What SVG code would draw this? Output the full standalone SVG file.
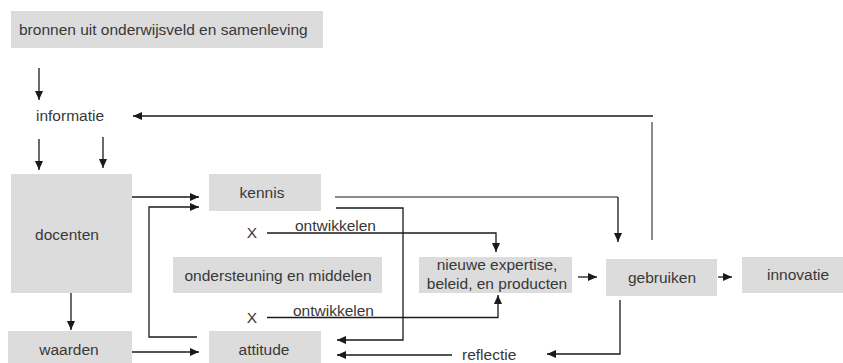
<svg xmlns="http://www.w3.org/2000/svg" width="843" height="363" viewBox="0 0 843 363">
  <style>
    .box { fill: #dcdcdc; }
    .lbl { font-family: "Liberation Sans", Arial, sans-serif; font-size: 15.5px; fill: #383838; }
    .mid { text-anchor: middle; }
    .ln { fill: none; stroke: #1a1a1a; stroke-width: 1.3; }
    .lg { fill: none; stroke: #666; stroke-width: 1.5; }
  </style>
  <defs>
    <marker id="ah" markerUnits="userSpaceOnUse" markerWidth="10" markerHeight="8" refX="9" refY="4" orient="auto">
      <path d="M0,0 L9,4 L0,8 Z" fill="#1a1a1a"/>
    </marker>
  </defs>

  <rect width="843" height="363" fill="#ffffff"/>

  <!-- nodes -->
  <g id="bronnen">
    <rect class="box" x="11" y="11" width="312" height="37"/>
    <text class="lbl" x="19" y="35">bronnen uit onderwijsveld en samenleving</text>
  </g>
  <g id="informatie">
    <text class="lbl" x="36" y="121">informatie</text>
  </g>
  <g id="docenten">
    <rect class="box" x="11" y="174" width="121" height="119"/>
    <text class="lbl mid" x="67" y="240">docenten</text>
  </g>
  <g id="kennis">
    <rect class="box" x="209" y="174" width="112" height="37"/>
    <text class="lbl mid" x="262" y="198">kennis</text>
  </g>
  <g id="x1">
    <text class="lbl mid" x="252" y="238" font-size="16.5">X</text>
    <text class="lbl" x="295" y="231">ontwikkelen</text>
  </g>
  <g id="ondersteuning">
    <rect class="box" x="173" y="257" width="209" height="36"/>
    <text class="lbl mid" x="278" y="281">ondersteuning en middelen</text>
  </g>
  <g id="x2">
    <text class="lbl mid" x="252" y="323" font-size="16.5">X</text>
    <text class="lbl" x="293" y="316">ontwikkelen</text>
  </g>
  <g id="waarden">
    <rect class="box" x="8" y="331" width="124" height="32"/>
    <text class="lbl mid" x="69" y="355">waarden</text>
  </g>
  <g id="attitude">
    <rect class="box" x="209" y="331" width="112" height="32"/>
    <text class="lbl mid" x="264" y="355">attitude</text>
  </g>
  <g id="nieuwe">
    <rect class="box" x="419" y="257" width="153" height="36"/>
    <text class="lbl mid" x="497" y="270">nieuwe expertise,</text>
    <text class="lbl mid" x="497" y="289">beleid, en producten</text>
  </g>
  <g id="gebruiken">
    <rect class="box" x="606" y="259" width="111" height="37"/>
    <text class="lbl mid" x="662" y="283">gebruiken</text>
  </g>
  <g id="innovatie">
    <rect class="box" x="742" y="257" width="101" height="36"/>
    <text class="lbl mid" x="798" y="280">innovatie</text>
  </g>
  <g id="reflectie">
    <text class="lbl" x="462" y="360">reflectie</text>
  </g>

  <!-- connectors -->
  <g id="connectors">
    <path class="ln" d="M39,68 V100" marker-end="url(#ah)"/>
    <path class="ln" d="M653,116 H133" marker-end="url(#ah)"/>
    <path class="lg" d="M652,240 V122"/>
    <path class="ln" d="M39,139 V170" marker-end="url(#ah)"/>
    <path class="ln" d="M103,137 V168" marker-end="url(#ah)"/>
    <path class="ln" d="M132,197 H199" marker-end="url(#ah)"/>
    <path class="ln" d="M197,337 H149 V207 H199" marker-end="url(#ah)"/>
    <path class="ln" d="M71,293 V330" marker-end="url(#ah)"/>
    <path class="ln" d="M132,352 H199" marker-end="url(#ah)"/>
    <path class="lg" d="M335,197 H618"/>
    <path class="ln" d="M618,197 V242" marker-end="url(#ah)"/>
    <path class="ln" d="M336,208 H403 V340 H337" marker-end="url(#ah)"/>
    <path class="ln" d="M267,233 H496 V252" marker-end="url(#ah)"/>
    <path class="ln" d="M267,317.5 H498 V295" marker-end="url(#ah)"/>
    <path class="ln" d="M578,277 H597" marker-end="url(#ah)"/>
    <path class="ln" d="M718,277 H732" marker-end="url(#ah)"/>
    <path class="ln" d="M620,300 V354 H547" marker-end="url(#ah)"/>
    <path class="ln" d="M452,355 H337" marker-end="url(#ah)"/>
  </g>
</svg>
